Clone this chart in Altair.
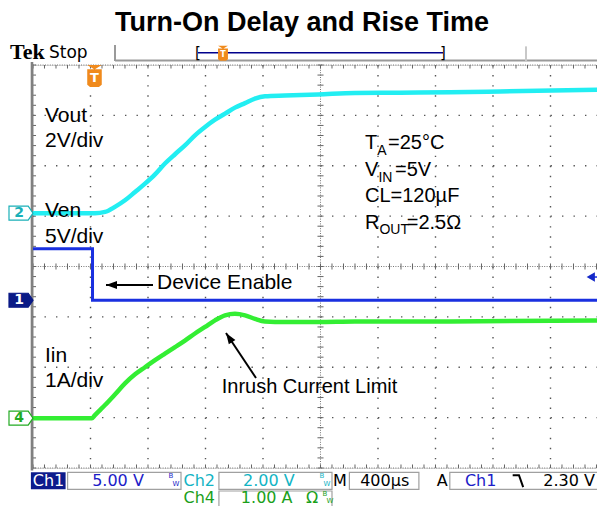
import altair as alt
import numpy as np
import pandas as pd

# ---------------- data read from the scope screen ----------------
# time in microseconds (400 us/div, trigger at t = 0)
vout_t = [-400, 31, 101, 170, 240, 310, 379, 449, 518, 588, 657, 727, 797, 866,
          936, 1005, 1075, 1144, 1214, 1353, 1583, 1840, 2153, 2501, 2849, 3579]
vout_v = [0, 0, 0.05, 0.25, 0.51, 0.84, 1.17, 1.54, 1.97, 2.34, 2.69, 3.09, 3.42, 3.71,
          3.95, 4.19, 4.37, 4.55, 4.64, 4.67, 4.71, 4.77, 4.78, 4.80, 4.83, 4.90]

ven_t = [-400, 14, 14, 3579]
ven_v = [5.1, 5.1, 0, 0]

iin_t = [-400, 10, 31, 66, 101, 170, 240, 310, 379, 449, 518, 588, 657, 727, 797,
         866, 936, 1005, 1075, 1144, 1214, 1353, 1583, 1840, 2500, 3579]
iin_a = [0, 0, 0.06, 0.16, 0.26, 0.47, 0.69, 0.87, 1.01, 1.15, 1.28, 1.41, 1.54, 1.68, 1.81,
         1.94, 2.04, 2.07, 2.04, 1.97, 1.92, 1.91, 1.91, 1.92, 1.92, 1.94]

channels = ["Ch2", "Ch1", "Ch4"]
ch_per_div = [2, 5, 1]                 # 2 V/div, 5 V/div, 1 A/div
ch_ground = [1.059, -0.669, -3.01]     # ground level, in divisions from centre
ch_colors = ["#22EEF2", "#1A30E0", "#33EE33"]
trig_level = 2.30                      # V on Ch1

T_MIN, T_MAX = -400, 3523.5
xs = alt.Scale(domain=[T_MIN, T_MAX], nice=False, zero=False)
ys = alt.Scale(domain=[-4, 4], nice=False, zero=False)


def X(f="t"):
    return alt.X(f"{f}:Q", scale=xs, axis=None)


def Y(f="d"):
    return alt.Y(f"{f}:Q", scale=ys, axis=None)


# ---------------- traces ----------------
rows = []
for ch, ts, vs, per, g in zip(channels, [vout_t, ven_t, iin_t], [vout_v, ven_v, iin_a],
                              ch_per_div, ch_ground):
    for i, (t, v) in enumerate(zip(ts, vs)):
        rows.append(dict(ch=ch, i=i, t=t, v=v, d=g + v / per))
tr = pd.DataFrame(rows)
cscale = alt.Scale(domain=channels, range=ch_colors)

smooth = alt.Chart(tr[tr.ch != "Ch1"]).mark_line(strokeWidth=4.5, interpolate="monotone").encode(
    x=X(), y=Y(), color=alt.Color("ch:N", scale=cscale, legend=None), order="i:Q")
step = alt.Chart(tr[tr.ch == "Ch1"]).mark_line(strokeWidth=3).encode(
    x=X(), y=Y(), color=alt.Color("ch:N", scale=cscale, legend=None), order="i:Q")


# ---------------- helpers ----------------
def rules(rs, **props):
    df = pd.DataFrame(rs, columns=["t", "t2", "d", "d2"])
    return alt.Chart(df).mark_rule(**props).encode(x=X(), x2="t2:Q", y=Y(), y2="d2:Q")


def texts(rs, **props):
    props.setdefault("baseline", "alphabetic")
    df = pd.DataFrame(rs, columns=["text", "t", "d", "c"])
    return alt.Chart(df).mark_text(**props).encode(
        x=X(), y=Y(), text="text:N", color=alt.Color("c:N", scale=None))


# ---------------- graticule ----------------
major_t = [0, 400, 800, 1200, 2000, 2400, 2800, 3200]
major_d = [-3, -2, -1, 1, 2, 3]
grid_v = rules([(t, t, 4, -4) for t in major_t], color="#555", strokeWidth=1.4,
               strokeDash=[1.4, 8.675])
grid_h = rules([(T_MIN, T_MAX, d, d) for d in major_d], color="#555", strokeWidth=1.4,
               strokeDash=[1.4, 10.1])
dense = rules([(T_MIN, T_MAX, 0, 0), (1600, 1600, 4, -4), (T_MIN, T_MAX, 4, 4),
               (T_MIN, T_MAX, -4, -4)], color="#777", strokeWidth=1, strokeDash=[1, 1.4])
minor_t = np.arange(-400, T_MAX, 80)
minor_d = np.arange(-4, 4.001, 0.2)
tk = []
tk += [(t, t, -0.06, 0.06) for t in minor_t]
tk += [(1579, 1621, d, d) for d in minor_d]
tk += [(t, t, 4, 3.93) for t in minor_t]
tk += [(t, t, -4, -3.93) for t in minor_t]
tk += [(-400, -379, d, d) for d in minor_d]
ticks = rules(tk, color="#666", strokeWidth=1)
left_border = rules([(-407, -407, 4.06, -4.05)], color="#808080", strokeWidth=2.6)

# ---------------- header bar ----------------
hdr_gray = rules([(170.4, 170.4, 4.397, 4.079), (170.4, 3650, 4.09, 4.09)],
                 color="#9a9a9a", strokeWidth=2)
hdr_light = rules([(3029.6, 3029.6, 4.37, 4.08)], color="#c8c8c8", strokeWidth=2)
hdr_blue = rules([(747.8, 2452.2, 4.244, 4.244)], color="#00008C", strokeWidth=1.5)
tek = texts([("Tek", -560, 4.129, "#000")], font="Liberation Serif", fontSize=22,
            fontWeight="bold", align="left")
stop = texts([("Stop", -288.7, 4.139, "#000")], font="DejaVu Sans", fontSize=17, align="left")
brackets = texts([("[", 747.8, 4.244, "#000"), ("]", 2452.2, 4.244, "#000")],
                 font="DejaVu Sans", fontSize=15, baseline="middle", align="center")

t_path = ("M -0.66 -1 L 0.66 -1 L 0 -0.6 Z "
          "M -0.66 -0.62 L 0.66 -0.62 L 0.66 0.8 L 0.4 1 L -0.4 1 L -0.66 0.8 Z")
tmk = pd.DataFrame({"t": [27.8, 921.7], "d": [3.782, 4.233], "sz": [484, 225]})
t_marks = alt.Chart(tmk).mark_point(shape=t_path, filled=True, color="#F08A1C", opacity=1).encode(
    x=X(), y=Y(), size=alt.Size("sz:Q", scale=None))
t_big = texts([("T", 27.8, 3.74, "#fff")], font="DejaVu Sans", fontSize=13, fontWeight="bold",
              baseline="middle", align="center")
t_small = texts([("T", 921.7, 4.205, "#fff")], font="DejaVu Sans", fontSize=8, fontWeight="bold",
                baseline="middle", align="center")

# ---------------- channel ground markers ----------------
mk_path = "M -1 -0.58 L 0.6 -0.58 L 1 0 L 0.6 0.58 L -1 0.58 Z"
mk = pd.DataFrame({"t": [-483.5] * 3, "d": ch_ground,
                   "f": ["#ffffff", "#0A1A86", "#ffffff"],
                   "s": ["#1AB0B8", "#0A1A86", "#22AA22"]})
markers = alt.Chart(mk).mark_point(shape=mk_path, filled=True, strokeWidth=1.2, opacity=1).encode(
    x=X(), y=Y(), fill=alt.Fill("f:N", scale=None), stroke=alt.Stroke("s:N", scale=None),
    size=alt.value(576))
mk_txt = texts([("2", -497, ch_ground[0], "#1AB0B8"), ("1", -497, ch_ground[1], "#ffffff"),
                ("4", -497, ch_ground[2], "#22AA22")],
               font="DejaVu Sans", fontSize=14, fontWeight="bold", baseline="middle", align="center")

# trigger level marker on the right
lvl_d = ch_ground[1] + trig_level / ch_per_div[1]
lvl_line = rules([(3480, 3650, lvl_d, lvl_d)], color="#1A30E0", strokeWidth=1.5)
lvl = alt.Chart(pd.DataFrame({"t": [3480], "d": [lvl_d]})).mark_point(
    shape="triangle-left", filled=True, color="#1428C8", opacity=1, size=90).encode(x=X(), y=Y())

# ---------------- annotations ----------------
title = texts([("Turn-On Delay and Rise Time", 1471.3, 4.675, "#000")],
              font="Liberation Sans", fontSize=27, fontWeight="bold", align="center")
labels21 = texts([("Vout", -316.5, 2.862, "#000"), ("2V/div", -316.5, 2.378, "#000"),
                  ("Ven", -316.5, 0.989, "#000"), ("5V/div", -316.5, 0.461, "#000"),
                  ("Iin", -316.5, -1.890, "#000"), ("1A/div", -316.5, -2.386, "#000"),
                  ("Device Enable", 462.6, -0.447, "#000")],
                 font="Liberation Sans", fontSize=21, align="left")
labels20 = texts([("Inrush Current Limit", 912.7, -2.511, "#000"),
                  ("T", 1909.6, 2.333, "#000"), ("=25°C", 2070, 2.333, "#000"),
                  ("V", 1909.6, 1.797, "#000"), ("=5V", 2118, 1.797, "#000"),
                  ("CL=120µF", 1909.6, 1.280, "#000"),
                  ("R", 1909.6, 0.744, "#000"), ("=2.5Ω", 2200, 0.744, "#000")],
                 font="Liberation Sans", fontSize=20, align="left")
subs = texts([("A", 1995, 2.223, "#000"), ("IN", 2003, 1.687, "#000"), ("OUT", 2010, 0.654, "#000")],
             font="Liberation Sans", fontSize=14, align="left")

arrows = rules([(434.8, 107.8, -0.367, -0.367), (1151.3, 942.6, -2.213, -1.320)],
               color="#000", strokeWidth=2)
head_path = "M 0 0 L 0.36 1 L -0.36 1 Z"
heads = alt.Chart(pd.DataFrame({"t": [107.8, 942.6], "d": [-0.367, -1.320], "a": [270, 326.3]})
                  ).mark_point(shape=head_path, filled=True, color="#000", opacity=1, size=484).encode(
    x=X(), y=Y(), angle=alt.Angle("a:Q", scale=None))

# ---------------- status bar ----------------
r1, r1b = -4.085, -4.423
r2, r2b = -4.457, -4.765
boxes = pd.DataFrame([(-159.3, 629.6, r1, r1b), (893.4, 1680, r1, r1b), (1801, 2284.5, r1, r1b),
                      (2499.6, 3650, r1, r1b), (893.4, 1680, r2, r2b)],
                     columns=["t", "t2", "d", "d2"])
box_l = alt.Chart(boxes).mark_rect(fill="#ffffff", stroke="#a0a0a0", strokeWidth=1.2).encode(
    x=X(), x2="t2:Q", y=Y(), y2="d2:Q")
ch1_box = alt.Chart(pd.DataFrame([(-414.6, -173.2, r1, r1b)], columns=["t", "t2", "d", "d2"])
                    ).mark_rect(fill="#0D1B8C").encode(x=X(), x2="t2:Q", y=Y(), y2="d2:Q")
b1, b2 = -4.357, -4.69
status = texts([("Ch1", -292.2, b1, "#ffffff"), ("5.00 V", 191.3, b1, "#1C1CC8"),
                ("Ch2", 756.9, b1, "#12B4C4"), ("2.00 V", 1240.3, b1, "#12B4C4"),
                ("M", 1734.2, b1, "#000"), ("400µs", 2046.6, b1, "#000"),
                ("A", 2445.9, b1, "#000"), ("Ch1", 2714.4, b1, "#1C1CC8")],
               font="DejaVu Sans", fontSize=16, align="center")
status2 = texts([("Ch4", 756.9, b2, "#1AA01A"), ("1.00 A", 1225.7, b2, "#1AA01A"),
                 ("Ω", 1540.9, b2, "#1AA01A")],
                font="DejaVu Sans", fontSize=16, align="center")
status_r = texts([("2.30 V", 3150, b1, "#000")], font="DejaVu Sans", fontSize=16, align="left")
bw = texts([("B", 560, -4.159, "#1C1CC8"), ("W", 594.8, -4.317, "#1C1CC8"),
            ("B", 1610.4, -4.159, "#12B4C4"), ("W", 1645.2, -4.317, "#12B4C4"),
            ("B", 1631.3, -4.51, "#1AA01A"), ("W", 1666.1, -4.66, "#1AA01A")],
           font="DejaVu Sans", fontSize=7, baseline="middle", align="center")
slope = alt.Chart(pd.DataFrame({"t": [2985.6], "d": [-4.254]})).mark_point(
    shape="M -1 -0.8 L -0.1 -0.8 L 0.5 0.9", filled=False, color="#000", strokeWidth=2,
    opacity=1, size=196).encode(x=X(), y=Y())

chart = alt.layer(
    grid_v, grid_h, dense, ticks, left_border,
    hdr_gray, hdr_light, hdr_blue, tek, stop, brackets,
    smooth, step,
    t_marks, t_big, t_small, markers, mk_txt, lvl_line, lvl,
    title, labels21, labels20, subs, arrows, heads,
    box_l, ch1_box, status, status2, status_r, bw, slope,
).properties(
    width=564, height=403,
    padding={"left": 25, "top": 57, "right": 0, "bottom": 38},
    autosize=alt.AutoSizeParams(type="none"),
).configure_view(stroke=None).configure(background="#ffffff")

chart.save("out.html", embed_options={"renderer": "svg", "actions": False})
